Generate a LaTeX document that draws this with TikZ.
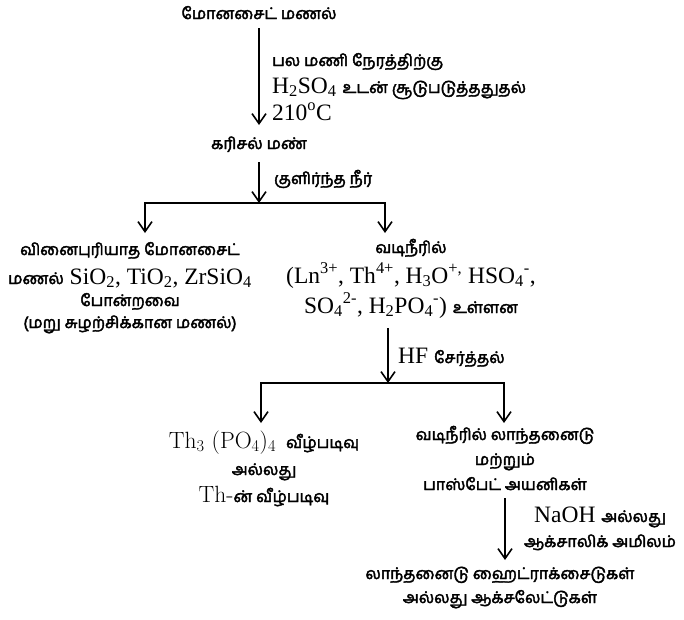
\documentclass[tikz,border=0pt]{standalone}
\usepackage[no-math]{fontspec}
\setmainfont{Liberation Serif}
\newfontfamily\tamfont[Script=Tamil,FakeBold=2.5]{Hind Madurai}
\usetikzlibrary{arrows.meta}
\newcommand\tm[1]{{\tamfont\fontsize{16}{22}\selectfont #1}}
\newcommand\lmr{\fontfamily{lmr}\selectfont}
\tikzset{
  txt/.style={inner sep=0pt, align=center, anchor=base},
  lab/.style={inner sep=0pt, align=left, anchor=base west},
  ln/.style={line width=1.8pt, line cap=rect},
  arr/.style={line width=1.8pt, -{Straight Barb[length=10pt,width=14pt,line width=1.6pt]}},
  fs/.style={font=\fontsize{23.5}{#1}\selectfont}
}
\begin{document}
\begin{tikzpicture}[x=1pt,y=-1pt]
\fill[white] (0,0) rectangle (684,619);
\useasboundingbox (0,0) rectangle (684,619);

% nodes (anchor base = baseline of the last line)
\node[txt, fs=24] (mon) at (259,19) {\tm{மோனசைட் மணல்}};
\node[lab, fs=27] (cond1) at (272,120) {\tm{பல மணி நேரத்திற்கு}\\ H\textsubscript{2}SO\textsubscript{4} \tm{உடன் சூடுபடுத்ததுதல்}\\ 210\textsuperscript{o}C};
\node[txt, fs=24] (kar) at (259,149) {\tm{கரிசல் மண்}};
\node[lab, fs=24] (cond2) at (274,184) {\tm{குளிர்ந்த நீர்}};

\node[txt, fs=22] (unr) at (130,328) {\tm{வினைபுரியாத மோனசைட்}\\[7pt] \tm{மணல்} SiO\textsubscript{2}, TiO\textsubscript{2}, ZrSiO\textsubscript{4}\\ \tm{போன்றவை}\\ \tm{(மறு சுழற்சிக்கான மணல்)}};
\node[txt, fs=30] (filt) at (411,313) {\tm{வடிநீரில்}\\ (Ln\textsuperscript{3+}, Th\textsuperscript{4+}, H\textsubscript{3}O\textsuperscript{+,} HSO\textsubscript{4}\textsuperscript{-},\\ SO\textsubscript{4}\textsuperscript{2-}, H\textsubscript{2}PO\textsubscript{4}\textsuperscript{-}) \tm{உள்ளன}};
\node[lab, fs=24] (cond3) at (398,363) {HF \tm{சேர்த்தல்}};

\node[txt, fs=27] (thp) at (264,502) {{\lmr Th\textsubscript{3} (PO\textsubscript{4})\textsubscript{4}}\hspace{10pt}\tm{வீழ்படிவு}\\ \tm{அல்லது}\\ {\lmr Th-}\tm{ன் வீழ்படிவு}};
\node[txt, fs=25] (lan) at (505,490) {\tm{வடிநீரில் லாந்தனைடு}\\ \tm{மற்றும்}\\ \tm{பாஸ்பேட் அயனிகள்}};
\node[txt, fs=25] (cond4) at (600,547) {NaOH \tm{அல்லது}\\ \tm{ஆக்சாலிக் அமிலம்}};
\node[txt, fs=24] (fin) at (500,603) {\tm{லாந்தனைடு ஹைட்ராக்சைடுகள்}\\ \tm{அல்லது ஆக்சலேட்டுகள்}};

% branch coordinates
\coordinate (s1) at (259,203);
\coordinate (s1l) at (145,203);
\coordinate (s1r) at (385,203);
\coordinate (t1l) at (145,233);
\coordinate (t1r) at (385,233);
\coordinate (s2) at (388,383);
\coordinate (s2l) at (261,383);
\coordinate (s2r) at (504,383);
\coordinate (t2l) at (261,423);
\coordinate (t2r) at (504,423);

% connectors
\draw[arr] ([yshift=-9pt]mon.base) -- ([yshift=24pt]kar.base);
\draw[arr] ([yshift=-13pt]kar.base) -- (s1);
\draw[ln] (s1l) -- (s1r);
\draw[arr] (s1l) -- (t1l);
\draw[arr] (s1r) -- (t1r);
\draw[arr] ([xshift=-23pt,yshift=-15pt]filt.base) -- (s2);
\draw[ln] (s2l) -- (s2r);
\draw[arr] (s2l) -- (t2l);
\draw[arr] (s2r) -- (t2r);
\draw[arr] ([yshift=-8pt]lan.base) -- ([xshift=5pt,yshift=43pt]fin.base);
\end{tikzpicture}
\end{document}
